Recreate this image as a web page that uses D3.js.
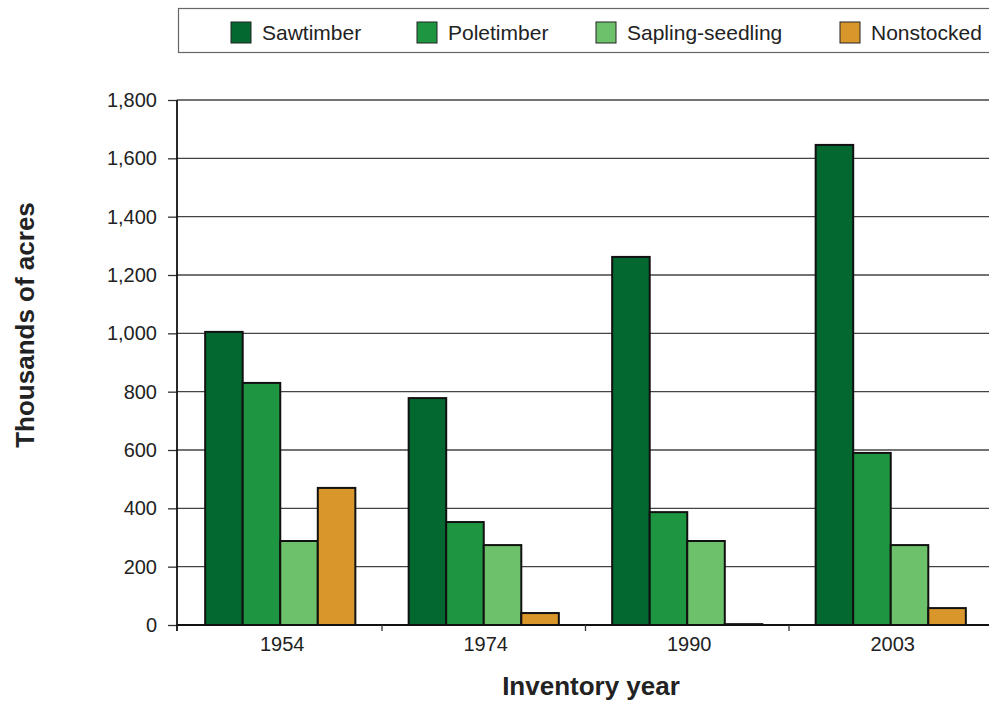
<!DOCTYPE html>
<html><head><meta charset="utf-8">
<script src="https://cdn.jsdelivr.net/npm/d3@7"></script>
<style>body{margin:0;background:#fff}svg{display:block;font-family:"Liberation Sans",Arial,sans-serif}</style>
</head><body><svg id="c" width="989" height="703"></svg>
<script>
const years = ["1954","1974","1990","2003"];
const seriesNames = ["Sawtimber","Poletimber","Sapling-seedling","Nonstocked"];
const sawtimber = [1005, 778, 1262, 1646];
const poletimber = [830, 353, 387, 590];
const sapling = [288, 274, 288, 274];
const nonstocked = [470, 41, 3, 58];
const colors = ["#026830","#1e9641","#6cc16a","#d9962a"];
const yTicks = [0,200,400,600,800,1000,1200,1400,1600,1800];

(function(){
const values = [sawtimber, poletimber, sapling, nonstocked];
const svg = d3.select("#c");
const mLeft = 177, mTop = 100, mBottom = 625;

const x = d3.scaleBand().domain(years).range([178.5, 992.5]).paddingInner(0).paddingOuter(0);
const xs = d3.scaleBand().domain(seriesNames).range([0, x.bandwidth()]).paddingInner(0).paddingOuter(0.71);
const y = d3.scaleLinear().domain([0,1800]).range([mBottom, mTop]);

// gridlines
svg.append("g").selectAll("line").data(yTicks.filter(d=>d>0)).join("line")
  .attr("x1", mLeft).attr("x2", 989).attr("y1", d=>y(d)).attr("y2", d=>y(d))
  .attr("stroke", "#444").attr("stroke-width", 1.3);

// bars
years.forEach((yr, i) => {
  const g = svg.append("g").attr("transform", `translate(${x(yr)},0)`);
  g.selectAll("rect").data(seriesNames).join("rect")
    .attr("x", s => xs(s))
    .attr("width", xs.bandwidth())
    .attr("y", (s, j) => y(values[j][i]))
    .attr("height", (s, j) => mBottom - y(values[j][i]))
    .attr("fill", (s, j) => colors[j])
    .attr("stroke", "#111").attr("stroke-width", 2);
});

// y axis
const yAxis = d3.axisLeft(y).tickValues(yTicks).tickFormat(d3.format(",")).tickSize(9).tickPadding(11);
const ya = svg.append("g").attr("transform", `translate(${mLeft},0)`).call(yAxis);
ya.selectAll("text").attr("font-size", 20).attr("fill", "#222").attr("font-family", '"Liberation Sans",Arial,sans-serif');
ya.selectAll("line").attr("stroke", "#333").attr("stroke-width", 1.3);
ya.select(".domain").remove();
svg.append("line").attr("x1", mLeft).attr("x2", mLeft).attr("y1", mTop).attr("y2", mBottom + 6)
  .attr("stroke", "#111").attr("stroke-width", 1.8);

// x axis
svg.append("line").attr("x1", mLeft).attr("x2", 989).attr("y1", mBottom).attr("y2", mBottom)
  .attr("stroke", "#111").attr("stroke-width", 1.8);
svg.append("g").selectAll("line").data(years.slice(1)).join("line")
  .attr("x1", d => x(d)).attr("x2", d => x(d)).attr("y1", mBottom).attr("y2", mBottom + 6)
  .attr("stroke", "#333").attr("stroke-width", 1.3);
svg.append("g").selectAll("text").data(years).join("text")
  .attr("x", d => x(d) + x.bandwidth()/2 + 2).attr("y", 651)
  .attr("text-anchor", "middle").attr("font-size", 20).attr("fill", "#222").text(d => d);

// axis titles
svg.append("text").attr("x", 591).attr("y", 695).attr("text-anchor", "middle")
  .attr("font-size", 26).attr("font-weight", "bold").attr("fill", "#222").text("Inventory year");
svg.append("text").attr("transform", "translate(34,325) rotate(-90)").attr("text-anchor", "middle")
  .attr("font-size", 26).attr("font-weight", "bold").attr("fill", "#222").text("Thousands of acres");

// legend
svg.append("rect").attr("x", 178.5).attr("y", 8.5).attr("width", 830).attr("height", 44)
  .attr("fill", "#fff").attr("stroke", "#666").attr("stroke-width", 1.2);
const legX = [231, 417, 596, 840];
const lg = svg.append("g").selectAll("g").data(seriesNames).join("g")
  .attr("transform", (d, i) => `translate(${legX[i]},22)`);
lg.append("rect").attr("width", 20).attr("height", 21).attr("fill", (d, i) => colors[i])
  .attr("stroke", "#222").attr("stroke-width", 1);
lg.append("text").attr("x", 31).attr("y", 18).attr("font-size", 21).attr("fill", "#222").text(d => d);
})();
</script></body></html>
